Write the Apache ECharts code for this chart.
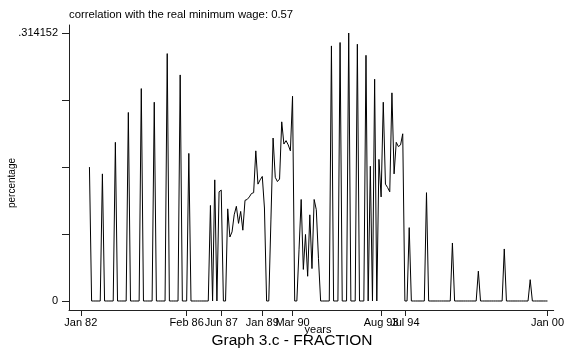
<!DOCTYPE html>
<html>
<head>
<meta charset="utf-8">
<script src="https://cdn.jsdelivr.net/npm/echarts@6/dist/echarts.min.js"></script>
<style>
html,body{margin:0;padding:0;background:#fff;}
#c{width:567px;height:351px;}
</style>
</head>
<body>
<div id="c"></div>
<script>
// month index 0 = Jan 82; first observation is at startMonth
var startMonth = 4;
var values = [
  0.157, 0, 0, 0, 0, 0,            // m4-9
  0.149, 0, 0, 0, 0, 0,            // m10-15
  0.186, 0, 0, 0, 0, 0,            // m16-21
  0.221, 0, 0, 0, 0, 0,            // m22-27
  0.249, 0, 0, 0, 0, 0,            // m28-33
  0.233, 0, 0, 0, 0, 0,            // m34-39
  0.290, 0, 0, 0, 0, 0,            // m40-45
  0.265, 0, 0, 0,                  // m46-49
  0.173, 0, 0, 0, 0, 0, 0, 0, 0, 0,// m50-59
  0.112, 0, 0.142, 0, 0.128, 0.130, 0, 0, // m60-67
  0.108, 0.075, 0.081, 0.101, 0.111, 0.091, 0.105, 0.083, // m68-75
  0.118, 0.119, 0.122, 0.126, 0.127, 0.176, 0.137, 0.142, // m76-83
  0.146, 0.109, 0, 0, 0.095, 0.191, 0.145, 0.140,         // m84-91
  0.143, 0.210, 0.184, 0.188, 0.183, 0.176, 0.240, 0,     // m92-99
  0, 0.060, 0.119, 0.037, 0.078, 0.029, 0.101, 0.038,     // m100-107
  0.119, 0.107, 0.050, 0, 0, 0, 0, 0,                     // m108-115
  0.299, 0, 0, 0, 0.303, 0, 0, 0,                         // m116-123
  0.314152, 0, 0, 0, 0.301, 0, 0, 0,                      // m124-131
  0.288, 0, 0.158, 0, 0.260, 0, 0.166, 0.122,             // m132-139
  0.233, 0.137, 0.133, 0.128, 0.244, 0.149, 0.186, 0.181, // m140-147
  0.183, 0.196, 0, 0, 0.086, 0, 0, 0,                     // m148-155
  0, 0, 0, 0, 0.127, 0, 0, 0,                             // m156-163
  0, 0, 0, 0, 0, 0, 0, 0,                                 // m164-171
  0.068, 0, 0, 0, 0, 0, 0, 0,                             // m172-179
  0, 0, 0, 0, 0.035, 0, 0, 0,                             // m180-187
  0, 0, 0, 0, 0, 0, 0, 0,                                 // m188-195
  0.061, 0, 0, 0, 0, 0, 0, 0,                             // m196-203
  0, 0, 0, 0, 0.025, 0, 0, 0,                             // m204-211
  0, 0, 0, 0, 0                                           // m212-216
];
var xTickMonths = [0, 49, 65, 84, 98, 139, 150, 216];
var xTickLabels = ['Jan 82', 'Feb 86', 'Jun 87', 'Jan 89', 'Mar 90', 'Aug 93', 'Jul 94', 'Jan 00'];
var yTicks = [0, 0.078538, 0.157076, 0.235614, 0.314152];
var yLabelValues = [0, 0.314152];
var yLabelTexts = ['0', '.314152'];

var data = values.map(function (v, i) { return [startMonth + i, v]; });

var font = 'Liberation Sans, Arial, sans-serif';
var chart = echarts.init(document.getElementById('c'), null, {renderer: 'canvas'});
chart.setOption({
  animation: false,
  backgroundColor: '#fff',
  grid: {left: 69, right: 5, top: 25, bottom: 41, containLabel: false},
  xAxis: {
    type: 'value',
    min: -5.46, max: 218.87,
    axisLine: {show: true, onZero: false, lineStyle: {color: '#222', width: 1}},
    axisTick: {show: true, length: 6, customValues: xTickMonths, lineStyle: {color: '#222'}},
    axisLabel: {
      show: true, customValues: xTickMonths, margin: 7,
      color: '#000', fontFamily: font, fontSize: 11,
      formatter: function (v) {
        for (var i = 0; i < xTickMonths.length; i++) if (Math.abs(xTickMonths[i] - v) < 0.01) return xTickLabels[i];
        return '';
      }
    },
    splitLine: {show: false}
  },
  yAxis: {
    type: 'value',
    min: -0.01055, max: 0.32353,
    axisLine: {show: true, onZero: false, lineStyle: {color: '#222', width: 1}},
    axisTick: {show: true, length: 7, customValues: yTicks, lineStyle: {color: '#222'}},
    axisLabel: {
      show: true, customValues: yLabelValues, margin: 11,
      color: '#000', fontFamily: font, fontSize: 11,
      formatter: function (v) {
        for (var i = 0; i < yLabelValues.length; i++) if (Math.abs(yLabelValues[i] - v) < 1e-6) return yLabelTexts[i];
        return '';
      }
    },
    splitLine: {show: false}
  },
  series: [{
    type: 'line',
    data: data,
    showSymbol: false,
    symbol: 'none',
    lineStyle: {color: '#000', width: 1},
    z: 3
  }],
  graphic: [
    {type: 'text', left: 69, top: 9, style: {text: 'correlation with the real minimum wage: 0.57', fontFamily: font, fontSize: 11.3, fill: '#000'}},
    {type: 'text', x: 12, y: 183, rotation: Math.PI / 2, style: {text: 'percentage', fontFamily: font, fontSize: 10, fill: '#000', align: 'center', verticalAlign: 'middle'}},
    {type: 'text', x: 318, y: 330, style: {text: 'years', fontFamily: font, fontSize: 11, fill: '#000', align: 'center', verticalAlign: 'middle'}},
    {type: 'text', x: 292, y: 341, style: {text: 'Graph 3.c - FRACTION', fontFamily: font, fontSize: 15.5, fill: '#000', align: 'center', verticalAlign: 'middle'}}
  ]
});
</script>
</body>
</html>
